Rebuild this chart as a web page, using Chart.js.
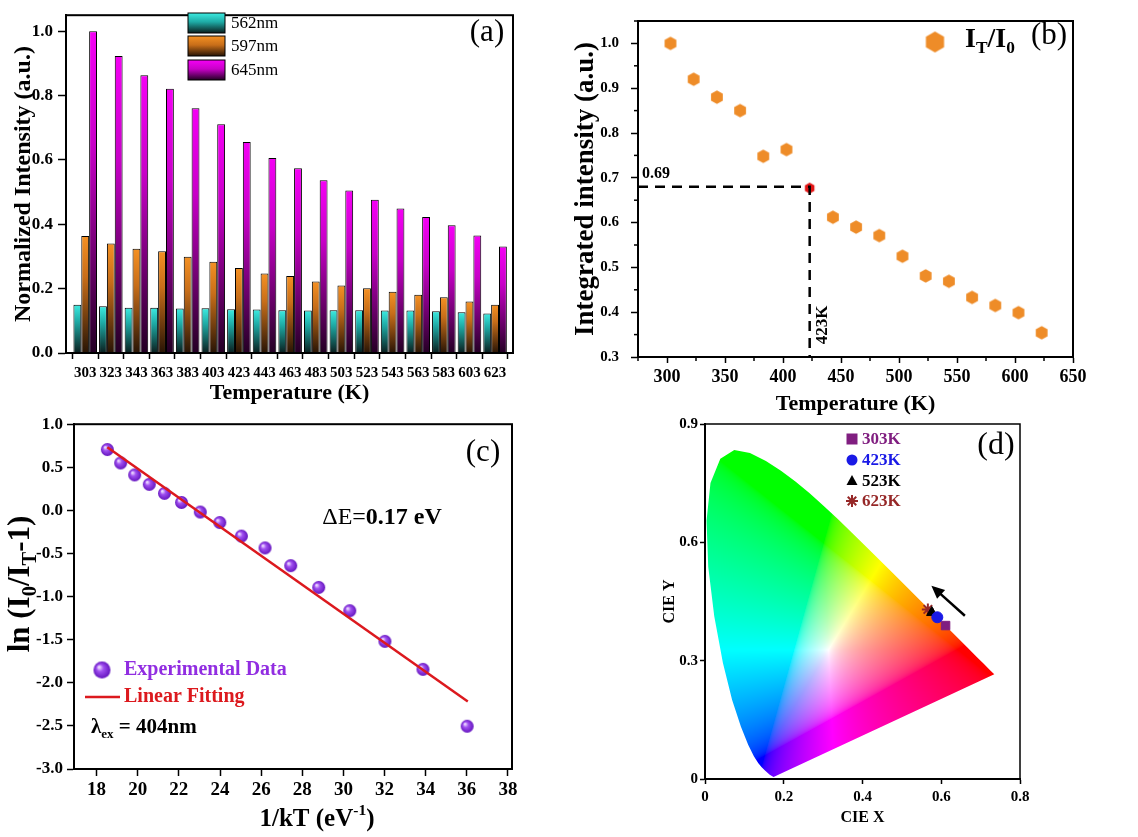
<!DOCTYPE html>
<html>
<head>
<meta charset="utf-8">
<script src="https://cdn.jsdelivr.net/npm/chart.js@4.4.1/dist/chart.umd.min.js"></script>
<style>
  html, body { margin: 0; padding: 0; background: #fff; }
  #wrap { position: relative; width: 1138px; height: 837px; overflow: hidden; background: #fff; }
  canvas { position: absolute; }
</style>
</head>
<body>
<div id="wrap">
  <canvas id="chA" width="570" height="420" style="left:0;top:0"></canvas>
  <canvas id="chB" width="568" height="420" style="left:570px;top:0"></canvas>
  <canvas id="chC" width="570" height="427" style="left:0;top:410px"></canvas>
  <canvas id="chD" width="568" height="427" style="left:570px;top:410px"></canvas>
</div>
<script>
// ---- data ----
const temps = [303,323,343,363,383,403,423,443,463,483,503,523,543,563,583,603,623];
const i562 = [0.150,0.145,0.141,0.141,0.138,0.139,0.136,0.135,0.133,0.132,0.133,0.133,0.132,0.132,0.130,0.127,0.123];
const i597 = [0.364,0.340,0.324,0.316,0.299,0.284,0.264,0.247,0.239,0.222,0.210,0.201,0.190,0.181,0.173,0.160,0.150];
const i645 = [1.000,0.923,0.863,0.821,0.761,0.711,0.656,0.606,0.574,0.537,0.505,0.476,0.449,0.423,0.397,0.365,0.331];

const integ = [1.000,0.920,0.880,0.850,0.748,0.763,0.677,0.612,0.590,0.571,0.525,0.481,0.469,0.433,0.415,0.399,0.354];
const refT = 423, refI = 0.68;

const invKT = [18.52,19.17,19.85,20.56,21.30,22.13,23.04,23.99,25.04,26.19,27.44,28.80,30.31,32.02,33.87,36.02];
const lnRatio = [0.706,0.550,0.412,0.302,0.198,0.092,-0.019,-0.141,-0.298,-0.435,-0.641,-0.893,-1.164,-1.519,-1.844,-2.504];
const fitX = [18.52, 36.05];
const fitY = [0.733, -2.218];

const locusX = [0.1741,0.1644,0.1566,0.1510,0.1440,0.1355,0.1241,0.1096,0.0913,0.0687,0.0454,0.0235,0.0082,0.0039,0.0139,0.0389,0.0743,0.1142,0.1547,0.1929,0.2296,0.2658,0.3016,0.3373,0.3731,0.4087,0.4441,0.4788,0.5125,0.5448,0.5752,0.6029,0.6270,0.6658,0.6915,0.7079,0.7190,0.7260,0.7347];
const locusY = [0.0050,0.0109,0.0177,0.0227,0.0297,0.0399,0.0578,0.0868,0.1327,0.2007,0.2950,0.4127,0.5384,0.6548,0.7502,0.8120,0.8338,0.8262,0.8059,0.7816,0.7543,0.7243,0.6923,0.6589,0.6245,0.5896,0.5547,0.5202,0.4866,0.4544,0.4242,0.3965,0.3725,0.3340,0.3083,0.2920,0.2809,0.2740,0.2653];
const cieLabels = ['303K','423K','523K','623K'];
const cieX = [0.611,0.590,0.576,0.566];
const cieY = [0.389,0.410,0.422,0.430];
const arrowFrom = [0.660,0.414], arrowTo = [0.575,0.490];

// ---- common ----
const SERIF = '"Liberation Serif","Times New Roman",serif';
Chart.defaults.font.family = SERIF;
Chart.defaults.color = '#000';
Chart.defaults.animation = false;

function rich(ctx, parts, x, y, o) {
  const size = o.size, ratio = o.ratio || 0.62;
  ctx.save();
  ctx.translate(x, y);
  if (o.rot) ctx.rotate(o.rot);
  let w = 0;
  const segs = parts.map(p => {
    const small = p[1] === 'sub' || p[1] === 'sup';
    const s = small ? size * ratio : size;
    const f = (p[2] === false ? '' : 'bold ') + s + 'px ' + SERIF;
    ctx.font = f;
    const m = ctx.measureText(p[0]).width;
    w += m;
    return { t: p[0], f, m, dy: p[1] === 'sub' ? size * 0.32 : p[1] === 'sup' ? -size * 0.36 : 0 };
  });
  let cx = o.align === 'left' ? 0 : -w / 2;
  ctx.textBaseline = 'middle';
  ctx.textAlign = 'left';
  ctx.fillStyle = o.color || '#000';
  segs.forEach(s => {
    ctx.font = s.f;
    ctx.fillText(s.t, cx, s.dy);
    cx += s.m;
  });
  ctx.restore();
}

function frame(chart, lw) {
  const { ctx, chartArea: a } = chart;
  ctx.save();
  ctx.strokeStyle = '#000';
  ctx.lineWidth = lw || 2;
  ctx.strokeRect(a.left, a.top, a.right - a.left, a.bottom - a.top);
  ctx.restore();
}

function minorTicks(chart, axis, values, len) {
  const s = chart.scales[axis], ctx = chart.ctx, a = chart.chartArea;
  ctx.save();
  ctx.strokeStyle = '#000';
  ctx.lineWidth = 1.5;
  values.forEach(v => {
    const p = s.getPixelForValue(v);
    ctx.beginPath();
    if (s.isHorizontal()) { ctx.moveTo(p, a.bottom); ctx.lineTo(p, a.bottom + len); }
    else { ctx.moveTo(a.left, p); ctx.lineTo(a.left - len, p); }
    ctx.stroke();
  });
  ctx.restore();
}

function axis(o) {
  return {
    type: 'linear',
    offset: false,
    min: o.min, max: o.max,
    border: { display: true, color: '#000', width: 2 },
    grid: { display: true, drawOnChartArea: false, drawTicks: true, tickLength: o.tl || 6, tickColor: '#000', tickWidth: 1.5 },
    ticks: { padding: o.pad, font: { size: o.fs || 15, weight: 'bold' }, maxRotation: 0, autoSkip: false, callback: o.fmt },
    title: o.title ? { display: true, text: o.title, font: { size: o.tfs || 22, weight: 'bold' }, padding: o.tpad } : { display: false },
    afterBuildTicks: s => { s.ticks = o.ticks.map(v => ({ value: v })); },
    afterFit: s => { if (o.w !== undefined) s.width = o.w; if (o.h !== undefined) s.height = o.h; }
  };
}

// ---- (a) bar chart ----
function barGrad(top, mid, bottom) {
  return c => {
    const ch = c.chart;
    if (!ch.chartArea || c.type !== 'data') return top;
    const ys = ch.scales.y;
    const y0 = ys.getPixelForValue(c.parsed.y), y1 = ys.getPixelForValue(0);
    const g = ch.ctx.createLinearGradient(0, y0, 0, y1 + 0.01);
    g.addColorStop(0, top);
    g.addColorStop(0.35, mid);
    g.addColorStop(1, bottom);
    return g;
  };
}
const barCols = [
  ['rgb(60,235,225)', 'rgb(30,170,165)', 'rgb(10,30,30)'],
  ['rgb(245,145,35)', 'rgb(200,110,25)', 'rgb(40,20,5)'],
  ['rgb(245,0,245)', 'rgb(200,0,200)', 'rgb(35,0,35)']
];
const barNames = ['562nm', '597nm', '645nm'];

new Chart(document.getElementById('chA'), {
  type: 'bar',
  data: {
    datasets: [i562, i597, i645].map((arr, k) => ({
      label: barNames[k],
      data: temps.map((t, i) => ({ x: t, y: arr[i] })),
      backgroundColor: barGrad(...barCols[k]),
      borderColor: '#000',
      borderWidth: 1,
      categoryPercentage: 0.92,
      barPercentage: 1.0
    }))
  },
  options: {
    responsive: false,
    layout: { padding: { left: 0, top: 5, right: 57, bottom: 0 } },
    plugins: { legend: { display: false }, tooltip: { enabled: false } },
    scales: {
      x: axis({ min: 288, max: 637, ticks: temps, h: 67, pad: 5, fs: 15, title: 'Temperature (K)', tfs: 22, tpad: { bottom: 13 } }),
      y: axis({ min: 0, max: 1.05, ticks: [0, 0.2, 0.4, 0.6, 0.8, 1.0], w: 66, tl: 8, pad: 5, fs: 17, fmt: v => v.toFixed(1), title: 'Normalized Intensity (a.u.)', tfs: 24, tpad: { top: 9 } })
    }
  },
  plugins: [{
    id: 'decoA',
    afterDraw(chart) {
      const ctx = chart.ctx;
      frame(chart, 2);
      const rows = [13, 36, 60];
      rows.forEach((ty, k) => {
        const g = ctx.createLinearGradient(0, ty, 0, ty + 20);
        g.addColorStop(0, barCols[k][0]);
        g.addColorStop(0.45, barCols[k][1]);
        g.addColorStop(1, barCols[k][2]);
        ctx.fillStyle = g;
        ctx.fillRect(188, ty, 37, 20);
        ctx.strokeStyle = '#000';
        ctx.lineWidth = 1;
        ctx.strokeRect(188, ty, 37, 20);
        ctx.fillStyle = '#000';
        ctx.font = '17px ' + SERIF;
        ctx.textBaseline = 'middle';
        ctx.textAlign = 'left';
        ctx.fillText(barNames[k], 231, ty + 11);
      });
      ctx.font = '31px ' + SERIF;
      ctx.textAlign = 'center';
      ctx.fillText('(a)', 487, 33);
    }
  }]
});

// ---- (b) integrated intensity ----
function hexImg(r, color) {
  const c = document.createElement('canvas');
  const s = Math.ceil(2 * r + 2);
  c.width = s; c.height = s;
  const x = c.getContext('2d');
  x.fillStyle = color;
  x.beginPath();
  for (let i = 0; i < 6; i++) {
    const a = Math.PI / 2 + i * Math.PI / 3;
    x.lineTo(s / 2 + r * Math.cos(a), s / 2 + r * Math.sin(a));
  }
  x.closePath();
  x.fill();
  return c;
}
const hexOrange = hexImg(6.8, 'rgb(238,140,40)');
const hexRed = hexImg(5.5, 'rgb(225,20,20)');
const hexBig = hexImg(10.5, 'rgb(238,140,40)');

new Chart(document.getElementById('chB'), {
  type: 'scatter',
  data: {
    datasets: [
      {
        type: 'line',
        data: [{ x: 275, y: refI }, { x: refT, y: refI }, { x: refT, y: 0.3 }],
        borderColor: '#000', borderWidth: 2.5, borderDash: [10, 7], pointRadius: 0, fill: false
      },
      {
        data: temps.map((t, i) => ({ x: t, y: integ[i] })).filter(p => p.x !== refT),
        pointStyle: hexOrange, pointRadius: 6.8
      },
      {
        data: temps.map((t, i) => ({ x: t, y: integ[i] })).filter(p => p.x === refT),
        pointStyle: hexRed, pointRadius: 5.5
      }
    ]
  },
  options: {
    responsive: false,
    layout: { padding: { left: 0, top: 6, right: 65, bottom: 0 } },
    plugins: { legend: { display: false }, tooltip: { enabled: false } },
    scales: {
      x: axis({ min: 275, max: 650, ticks: [300, 350, 400, 450, 500, 550, 600, 650], h: 63, pad: 4, fs: 18, title: 'Temperature (K)', tfs: 22, tpad: { bottom: 2 } }),
      y: axis({ min: 0.3, max: 1.05, ticks: [0.3, 0.4, 0.5, 0.6, 0.7, 0.8, 0.9, 1.0], w: 68, tl: 7, pad: 12, fs: 15, fmt: v => v.toFixed(1), title: 'Integrated intensity (a.u.)', tfs: 27, tpad: { top: 0 } })
    }
  },
  plugins: [{
    id: 'decoB',
    afterDraw(chart) {
      const ctx = chart.ctx, xs = chart.scales.x, ys = chart.scales.y;
      frame(chart, 2);
      minorTicks(chart, 'x', [275, 325, 375, 425, 475, 525, 575, 625], 4);
      minorTicks(chart, 'y', [0.35, 0.45, 0.55, 0.65, 0.75, 0.85, 0.95, 1.05], 4);
      ctx.drawImage(hexBig, 365 - hexBig.width / 2, 42 - hexBig.height / 2);
      rich(ctx, [['I', 'n'], ['T', 'sub'], ['/I', 'n'], ['0', 'sub']], 395, 40, { size: 28, align: 'left' });
      ctx.fillStyle = '#000';
      ctx.font = '31px ' + SERIF;
      ctx.textAlign = 'center';
      ctx.textBaseline = 'middle';
      ctx.fillText('(b)', 479, 36);
      ctx.font = 'bold 16px ' + SERIF;
      ctx.textAlign = 'left';
      ctx.fillText('0.69', xs.getPixelForValue(275) + 4, ys.getPixelForValue(refI) - 13);
      ctx.save();
      ctx.translate(xs.getPixelForValue(refT) + 13, ys.getPixelForValue(0.3) - 32);
      ctx.rotate(-Math.PI / 2);
      ctx.textAlign = 'center';
      ctx.font = 'bold 17px ' + SERIF;
      ctx.fillText('423K', 0, 0);
      ctx.restore();
    }
  }]
});

// ---- (c) ln(I0/IT - 1) vs 1/kT ----
function sphereImg(r) {
  const c = document.createElement('canvas');
  const s = Math.ceil(2 * r + 2);
  c.width = s; c.height = s;
  const x = c.getContext('2d');
  const g = x.createRadialGradient(s / 2 - r * 0.35, s / 2 - r * 0.35, r * 0.1, s / 2, s / 2, r);
  g.addColorStop(0, 'rgb(235,215,255)');
  g.addColorStop(0.35, 'rgb(160,80,240)');
  g.addColorStop(1, 'rgb(100,20,190)');
  x.fillStyle = g;
  x.beginPath();
  x.arc(s / 2, s / 2, r, 0, Math.PI * 2);
  x.fill();
  return c;
}
const sphere = sphereImg(6.5);
const sphereBig = sphereImg(8.5);

new Chart(document.getElementById('chC'), {
  type: 'scatter',
  data: {
    datasets: [
      {
        type: 'line',
        data: fitX.map((v, i) => ({ x: v, y: fitY[i] })),
        borderColor: 'rgb(220,25,30)', borderWidth: 2.5, pointRadius: 0, fill: false
      },
      {
        data: invKT.map((v, i) => ({ x: v, y: lnRatio[i] })),
        pointStyle: sphere, pointRadius: 6.5
      }
    ]
  },
  options: {
    responsive: false,
    layout: { padding: { left: 0, top: 10, right: 58, bottom: 0 } },
    plugins: { legend: { display: false }, tooltip: { enabled: false } },
    scales: {
      x: axis({ min: 16.9, max: 38.2, ticks: [18, 20, 22, 24, 26, 28, 30, 32, 34, 36, 38], h: 68, tl: 7, pad: 3, fs: 19 }),
      y: axis({ min: -3, max: 1, ticks: [-3, -2.5, -2, -1.5, -1, -0.5, 0, 0.5, 1], w: 74, tl: 7, pad: 4, fs: 17, fmt: v => v.toFixed(1) })
    }
  },
  plugins: [{
    id: 'decoC',
    afterDraw(chart) {
      const ctx = chart.ctx;
      frame(chart, 2);
      ctx.fillStyle = '#000';
      ctx.font = '31px ' + SERIF;
      ctx.textAlign = 'center';
      ctx.textBaseline = 'middle';
      ctx.fillText('(c)', 483, 43);
      rich(ctx, [['\u0394E=', 'n', false], ['0.17 eV', 'n']], 382, 108, { size: 24 });
      ctx.drawImage(sphereBig, 102 - sphereBig.width / 2, 260 - sphereBig.height / 2);
      rich(ctx, [['Experimental Data', 'n']], 124, 260, { size: 20, align: 'left', color: 'rgb(145,45,225)' });
      ctx.strokeStyle = 'rgb(220,25,30)';
      ctx.lineWidth = 2.5;
      ctx.beginPath(); ctx.moveTo(85, 287); ctx.lineTo(120, 287); ctx.stroke();
      rich(ctx, [['Linear Fitting', 'n']], 124, 287, { size: 20, align: 'left', color: 'rgb(220,25,30)' });
      rich(ctx, [['\u03bb', 'n'], ['ex', 'sub'], [' = 404nm', 'n']], 91, 318, { size: 21, align: 'left' });
      rich(ctx, [['ln (I', 'n'], ['0', 'sub'], ['/I', 'n'], ['T', 'sub'], ['-1)', 'n']], 21, 174, { size: 31, ratio: 0.66, rot: -Math.PI / 2 });
      rich(ctx, [['1/kT (eV', 'n'], ['-1', 'sup'], [')', 'n']], 317, 410, { size: 25 });
    }
  }]
});

// ---- (d) CIE diagram ----
function xyToRGB(x, y) {
  if (y < 0.002) y = 0.002;
  const X = x / y, Y = 1, Z = (1 - x - y) / y;
  let r = 3.2406 * X - 1.5372 * Y - 0.4986 * Z;
  let g = -0.9689 * X + 1.8758 * Y + 0.0415 * Z;
  let b = 0.0557 * X - 0.2040 * Y + 1.0570 * Z;
  r = Math.max(r, 0); g = Math.max(g, 0); b = Math.max(b, 0);
  // soft maximum keeps the colour map free of hard creases
  const m = Math.pow(r ** 6 + g ** 6 + b ** 6, 1 / 6) || 1;
  r = Math.min(r / m, 1); g = Math.min(g / m, 1); b = Math.min(b / m, 1);
  const mn = Math.min(r, g, b);
  const k = 0.4 * mn * mn;
  r = (r - k) / (1 - k); g = (g - k) / (1 - k); b = (b - k) / (1 - k);
  const mx = Math.max(r, g, b);
  r /= mx; g /= mx; b /= mx;
  const gam = v => v <= 0.0031308 ? 12.92 * v : 1.055 * Math.pow(v, 1 / 2.4) - 0.055;
  return [gam(r) * 255, gam(g) * 255, gam(b) * 255];
}
let cieCache = null;
function cieImage(chart) {
  if (cieCache && cieCache.w === chart.width) return cieCache.c;
  const c = document.createElement('canvas');
  c.width = chart.width; c.height = chart.height;
  const x = c.getContext('2d');
  const img = x.createImageData(c.width, c.height);
  const a = chart.chartArea, xs = chart.scales.x, ys = chart.scales.y;
  for (let py = Math.floor(a.top); py < a.bottom; py++) {
    const vy = ys.getValueForPixel(py);
    for (let px = Math.floor(a.left); px < a.right; px++) {
      const vx = xs.getValueForPixel(px);
      const col = xyToRGB(vx, vy);
      const k = (py * c.width + px) * 4;
      img.data[k] = col[0]; img.data[k + 1] = col[1]; img.data[k + 2] = col[2]; img.data[k + 3] = 255;
    }
  }
  x.putImageData(img, 0, 0);
  cieCache = { w: chart.width, c };
  return c;
}

const cieStyles = [
  { pointStyle: 'rect', color: 'rgb(128,30,128)', r: 6 },
  { pointStyle: 'circle', color: 'rgb(25,25,230)', r: 5.5 },
  { pointStyle: 'triangle', color: 'rgb(0,0,0)', r: 6 },
  { pointStyle: 'star', color: 'rgb(150,40,40)', r: 6 }
];

new Chart(document.getElementById('chD'), {
  type: 'scatter',
  data: {
    datasets: [
      {
        label: 'locus',
        type: 'line',
        data: locusX.map((v, i) => ({ x: v, y: locusY[i] })),
        borderWidth: 0, pointRadius: 0, fill: false, showLine: false
      }
    ].concat(cieLabels.map((l, i) => ({
      label: l,
      data: [{ x: cieX[i], y: cieY[i] }],
      pointStyle: cieStyles[i].pointStyle,
      pointRadius: cieStyles[i].r,
      backgroundColor: cieStyles[i].color,
      borderColor: cieStyles[i].color,
      borderWidth: cieStyles[i].pointStyle === 'star' ? 2 : 1
    })))
  },
  options: {
    responsive: false,
    layout: { padding: { left: 80, top: 14, right: 118, bottom: 0 } },
    plugins: { legend: { display: false }, tooltip: { enabled: false } },
    scales: {
      x: axis({ min: 0, max: 0.8, ticks: [0, 0.2, 0.4, 0.6, 0.8], h: 58, tl: 5, pad: 4, fs: 15, fmt: v => v === 0 ? '0' : v.toFixed(1), title: 'CIE X', tfs: 16, tpad: { bottom: 10 } }),
      y: axis({ min: 0, max: 0.9, ticks: [0, 0.3, 0.6, 0.9], w: 55, tl: 5, pad: 2, fs: 15, fmt: v => v === 0 ? '0' : v.toFixed(1), title: 'CIE Y', tfs: 16, tpad: { top: 10 } })
    }
  },
  plugins: [{
    id: 'decoD',
    beforeDatasetsDraw(chart) {
      const ctx = chart.ctx, pts = chart.getDatasetMeta(0).data;
      const im = cieImage(chart);
      ctx.save();
      ctx.beginPath();
      pts.forEach((p, i) => i ? ctx.lineTo(p.x, p.y) : ctx.moveTo(p.x, p.y));
      ctx.closePath();
      ctx.clip();
      ctx.drawImage(im, 0, 0);
      ctx.restore();
    },
    afterDraw(chart) {
      const ctx = chart.ctx, xs = chart.scales.x, ys = chart.scales.y;
      frame(chart, 1.5);
      // arrow
      const x0 = xs.getPixelForValue(arrowFrom[0]), y0 = ys.getPixelForValue(arrowFrom[1]);
      const x1 = xs.getPixelForValue(arrowTo[0]), y1 = ys.getPixelForValue(arrowTo[1]);
      const ang = Math.atan2(y1 - y0, x1 - x0);
      ctx.save();
      ctx.strokeStyle = '#000'; ctx.fillStyle = '#000'; ctx.lineWidth = 2.5;
      ctx.beginPath();
      ctx.moveTo(x0, y0);
      ctx.lineTo(x1 - 8 * Math.cos(ang), y1 - 8 * Math.sin(ang));
      ctx.stroke();
      ctx.beginPath();
      ctx.moveTo(x1, y1);
      ctx.lineTo(x1 - 13 * Math.cos(ang) + 6 * Math.sin(ang), y1 - 13 * Math.sin(ang) - 6 * Math.cos(ang));
      ctx.lineTo(x1 - 13 * Math.cos(ang) - 6 * Math.sin(ang), y1 - 13 * Math.sin(ang) + 6 * Math.cos(ang));
      ctx.closePath();
      ctx.fill();
      ctx.restore();
      // legend
      const rows = [29, 50, 71, 91];
      cieLabels.forEach((l, i) => {
        const st = cieStyles[i], y = rows[i], x = 282;
        ctx.save();
        ctx.fillStyle = st.color; ctx.strokeStyle = st.color; ctx.lineWidth = 2;
        ctx.beginPath();
        if (st.pointStyle === 'rect') { ctx.rect(x - 5.5, y - 5.5, 11, 11); ctx.fill(); }
        else if (st.pointStyle === 'circle') { ctx.arc(x, y, 5.5, 0, Math.PI * 2); ctx.fill(); }
        else if (st.pointStyle === 'triangle') { ctx.moveTo(x, y - 6); ctx.lineTo(x + 5.5, y + 4); ctx.lineTo(x - 5.5, y + 4); ctx.closePath(); ctx.fill(); }
        else {
          for (let k = 0; k < 4; k++) {
            const a = k * Math.PI / 4;
            ctx.moveTo(x - 6 * Math.cos(a), y - 6 * Math.sin(a));
            ctx.lineTo(x + 6 * Math.cos(a), y + 6 * Math.sin(a));
          }
          ctx.stroke();
        }
        ctx.restore();
        rich(ctx, [[l, 'n']], 292, y + 1, { size: 17, align: 'left', color: st.color });
      });
      ctx.fillStyle = '#000';
      ctx.font = '32px ' + SERIF;
      ctx.textAlign = 'center';
      ctx.textBaseline = 'middle';
      ctx.fillText('(d)', 426, 36);
    }
  }]
});
</script>
</body>
</html>
